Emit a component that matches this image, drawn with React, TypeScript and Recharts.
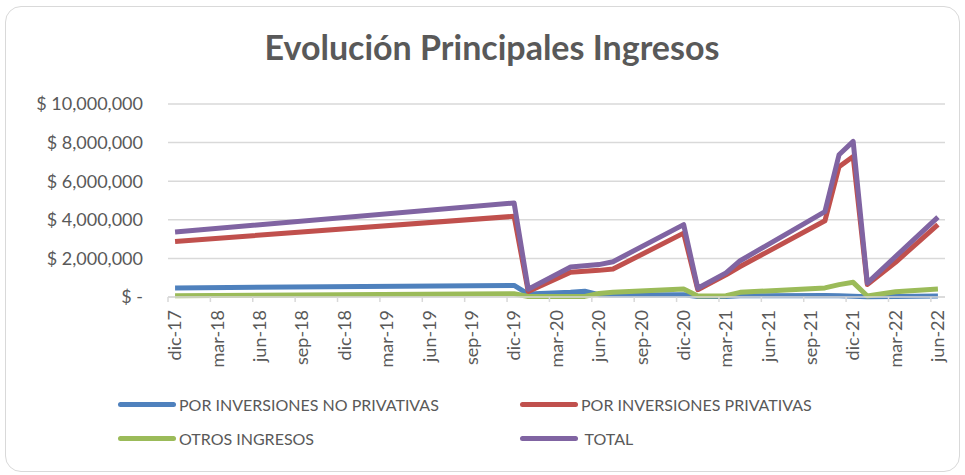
import React from 'react';
import { LineChart, Line, XAxis, YAxis, CartesianGrid } from 'recharts';

// months that carry a value (date axis, one slot per month)
const pointMonths = [
  'dic-17', 'dic-19', 'ene-20', 'abr-20', 'may-20', 'jun-20', 'jul-20', 'dic-20',
  'ene-21', 'mar-21', 'abr-21', 'oct-21', 'nov-21', 'dic-21', 'ene-22', 'mar-22', 'jun-22',
];

const noPrivativas = [
  470000, 600000, 150000, 250000, 300000, 120000, 100000, 120000,
  20000, 20000, 60000, 80000, 60000, 40000, 10000, 30000, 50000,
];
const privativas = [
  2880000, 4180000, 280000, 1280000, 1330000, 1380000, 1450000, 3310000,
  380000, 1150000, 1580000, 3950000, 6750000, 7280000, 650000, 1800000, 3750000,
];
const otrosIngresos = [
  70000, 170000, 30000, 30000, 30000, 180000, 250000, 410000,
  50000, 70000, 240000, 470000, 640000, 760000, 50000, 270000, 410000,
];
const total = [
  3370000, 4870000, 400000, 1550000, 1620000, 1680000, 1830000, 3750000,
  450000, 1250000, 1880000, 4420000, 7370000, 8060000, 720000, 2100000, 4140000,
];

const tickLabels = [
  'dic-17', 'mar-18', 'jun-18', 'sep-18', 'dic-18', 'mar-19', 'jun-19', 'sep-19', 'dic-19',
  'mar-20', 'jun-20', 'sep-20', 'dic-20', 'mar-21', 'jun-21', 'sep-21', 'dic-21', 'mar-22', 'jun-22',
];

const yTicks = [0, 2000000, 4000000, 6000000, 8000000, 10000000];

const monthIdx: Record<string, number> = {
  ene: 0, feb: 1, mar: 2, abr: 3, may: 4, jun: 5, jul: 6, ago: 7, sep: 8, oct: 9, nov: 10, dic: 11,
};

// months since dic-17
const toPos = (label: string) => {
  const [m, y] = label.split('-');
  return (Number(y) - 17) * 12 + monthIdx[m] - 11;
};

const data = pointMonths.map((m, i) => ({
  x: toPos(m) + 0.5,
  noPriv: noPrivativas[i],
  priv: privativas[i],
  otros: otrosIngresos[i],
  total: total[i],
}));

const tickPos = tickLabels.map(toPos);

const series = [
  { key: 'noPriv', name: 'POR INVERSIONES NO PRIVATIVAS', color: '#4f81bd' },
  { key: 'priv', name: 'POR INVERSIONES PRIVATIVAS', color: '#c0504d' },
  { key: 'otros', name: 'OTROS INGRESOS', color: '#9bbb59' },
  { key: 'total', name: 'TOTAL', color: '#8064a2' },
];

const FONT = 'Lato, "Open Sans", sans-serif';
const TEXT = '#595959';

const fmtMoney = (v: number) => (v === 0 ? '$ -' : '$ ' + v.toLocaleString('en-US'));

const XTick = (props: any) => {
  const { x, y, index } = props;
  return (
    <g transform={`translate(${x + 7},${y})`}>
      <text
        transform="rotate(-90)"
        textAnchor="end"
        dy="0.35em"
        fill={TEXT}
        fontSize={18}
        fontFamily={FONT}
      >
        {tickLabels[index]}
      </text>
    </g>
  );
};

const LegendItem = ({ color, name, left, top }: any) => (
  <div style={{ position: 'absolute', left, top, display: 'flex', alignItems: 'center' }}>
    <div style={{ width: 58, height: 5, borderRadius: 3, background: color, marginRight: 3 }} />
    <span style={{ fontSize: 16, color: TEXT, whiteSpace: 'pre' }}>{name}</span>
  </div>
);

export default function App() {
  return (
    <div
      style={{
        position: 'absolute',
        left: 0,
        top: 0,
        width: 965,
        height: 475,
        background: '#fff',
        fontFamily: FONT,
        overflow: 'hidden',
      }}
    >
      <div
        style={{
          position: 'absolute',
          left: 5,
          top: 6,
          width: 953,
          height: 464,
          border: '1.5px solid #d9d9d9',
          borderRadius: 16,
        }}
      />
      <div
        style={{
          position: 'absolute',
          left: 0,
          width: 984,
          top: 26,
          textAlign: 'center',
          fontSize: 34,
          fontWeight: 700,
          color: TEXT,
        }}
      >
        Evolución Principales Ingresos
      </div>
      <LineChart
        width={965}
        height={475}
        data={data}
        margin={{ top: 104, right: 20, left: 0, bottom: 108 }}
        style={{ position: 'absolute', left: 0, top: 0 }}
      >
        <CartesianGrid vertical={false} stroke="#d9d9d9" strokeWidth={1.5} />
        <XAxis
          type="number"
          dataKey="x"
          domain={[0, 55]}
          ticks={tickPos}
          interval={0}
          height={70}
          tick={<XTick />}
          tickSize={5}
          tickMargin={8}
          axisLine={{ stroke: '#d9d9d9', strokeWidth: 1.5 }}
          tickLine={{ stroke: '#d9d9d9', strokeWidth: 1.5 }}
        />
        <YAxis
          domain={[0, 10000000]}
          ticks={yTicks}
          width={168}
          axisLine={false}
          tickLine={false}
          tickSize={0}
          tickMargin={25}
          tickFormatter={fmtMoney}
          tick={{ fill: TEXT, fontSize: 18, fontFamily: FONT }}
        />
        {series.map((s) => (
          <Line
            key={s.key}
            dataKey={s.key}
            name={s.name}
            stroke={s.color}
            strokeWidth={5}
            dot={false}
            strokeLinejoin="round"
            isAnimationActive={false}
          />
        ))}
      </LineChart>
      <LegendItem color={series[0].color} name={series[0].name} left={118} top={395} />
      <LegendItem color={series[1].color} name={series[1].name} left={520} top={395} />
      <LegendItem color={series[2].color} name={series[2].name} left={118} top={429} />
      <LegendItem color={series[3].color} name={' ' + series[3].name} left={520} top={429} />
    </div>
  );
}
